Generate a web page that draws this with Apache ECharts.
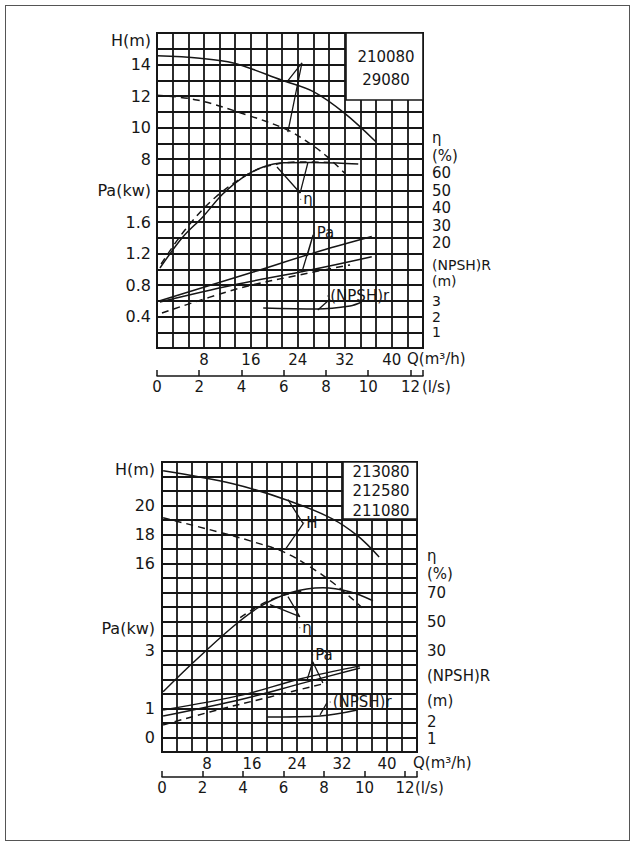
<!DOCTYPE html>
<html><head><meta charset="utf-8">
<script src="https://cdn.jsdelivr.net/npm/echarts@6/dist/echarts.min.js"></script>
<style>
html,body{margin:0;padding:0;background:#fff;}
#frame{position:absolute;left:5px;top:5px;width:623px;height:834px;border:1px solid #555;}
#chart{position:absolute;left:0;top:0;width:634px;height:846px;}
</style></head><body>
<div id="frame"></div><div id="chart"></div>
<script>
// ---------- data (Q in m3/h) ----------
// top chart : 210080 / 29080
const topModels = ['210080', '29080'];
const topH1Q = [0, 7.3, 13.0, 21.3, 26.8, 32.0, 37.3];
const topH1 = [14.55, 14.4, 14.1, 13.0, 12.25, 10.9, 9.1];
const topH2Q = [0, 6.8, 15.3, 22.2, 26.2, 29.0, 32.0];
const topH2 = [12.05, 11.75, 10.8, 9.85, 8.95, 8.15, 7.1];
const topEff1Q = [0.5, 4.4, 7.8, 11.2, 14.7, 18.1, 21.5, 26.1, 30.7, 34.3];
const topEff1 = [5.7, 23.4, 34.9, 48.0, 57.7, 63.4, 65.8, 66.0, 65.7, 65.1];
const topEff2Q = [0.7, 4.9, 10.0, 15.9, 19.6, 24.4, 29.5];
const topEff2 = [8.0, 28.0, 46.3, 60.0, 64.6, 66.3, 66.0];
const topPa1Q = [0.5, 16.4, 26.6, 36.6];
const topPa1 = [0.6, 0.965, 1.205, 1.415];
const topPa2Q = [0.5, 13.0, 24.4, 36.6];
const topPa2 = [0.585, 0.8, 0.965, 1.16];
const topPa3Q = [0.85, 14.1, 24.4, 32.9];
const topPa3 = [0.445, 0.76, 0.93, 1.055];
const topNpshQ = [18.1, 27.3, 32.9, 34.9];
const topNpsh = [2.54, 2.48, 2.67, 2.92];
// leader lines (top)
const topHLeadQ = [22.15, 24.7, 22.3], topHLead = [12.9, 14.1, 9.7];
const topEffLeadQ = [20.45, 24.4, 25.7], topEffLead = [63.4, 48.6, 65.7];
const topPaLeadQ = [24.7, 26.6, 25.6], topPaLead = [0.965, 1.435, 1.17];
const topNpshLeadQ = [27.4, 29.5], topNpshLead = [2.41, 3.11];

// bottom chart : 213080 / 212580 / 211080
const botModels = ['213080', '212580', '211080'];
const botH1Q = [0.2, 12.6, 22.4, 30.2, 34.8, 38.6];
const botH1 = [22.4, 21.5, 20.35, 19.1, 17.9, 16.45];
const botH2Q = [0.2, 9.8, 16.2, 21.9, 27.6, 30.8, 33.4, 35.6];
const botH2 = [19.15, 18.2, 17.5, 16.75, 15.45, 14.55, 13.7, 12.95];
const botEff1Q = [0.2, 5.5, 12.6, 17.4, 22.8, 28.6, 33.4, 37.5];
const botEff1 = [1.5, 21.5, 46.4, 60.2, 69.8, 73.3, 70.5, 64.3];
const botEff2Q = [13.9, 17.8, 21.9, 25.4];
const botEff2 = [52.6, 62.2, 68.5, 71.2];
const botPa1Q = [0.2, 14.4, 24.5, 35.2];
const botPa1 = [0.95, 1.47, 2.02, 2.47];
const botPa2Q = [0.2, 14.4, 24.5, 35.2];
const botPa2 = [0.74, 1.33, 1.85, 2.40];
const botPa3Q = [0.2, 8.5, 19.2, 29.3];
const botPa3 = [0.43, 0.88, 1.40, 1.88];
const botNpshQ = [18.7, 28.1, 34.7];
const botNpsh = [2.31, 2.37, 2.72];
// leader lines (bottom)
const botHLeadQ = [22.4, 25.1, 21.9], botHLead = [20.4, 18.75, 16.95];
const botEffLeadQ = [19.2, 24.5, 22.4], botEffLead = [61.6, 53.3, 67.1];
const botPaLeadQ = [25.8, 26.8, 28.6], botPaLead = [1.99, 2.61, 1.88];
const botNpshLeadQ = [28.1, 29.3], botNpshLead = [2.43, 3.13];

// tick labels
const qTicks = [8, 16, 24, 32, 40];
const lsTicks = [0, 2, 4, 6, 8, 10, 12];
const topHTicks = [8, 10, 12, 14];
const topPaTicks = [0.4, 0.8, 1.2, 1.6];
const topEffTicks = [20, 30, 40, 50, 60];
const topNpshTicks = [1, 2, 3];
const botHTicks = [16, 18, 20];
const botPaTicks = [0, 1, 3];
const botEffTicks = [30, 50, 70];
const botNpshTicks = [1, 2];

// ---------- chart ----------
const FONT = 'DejaVu Sans';
const INK = '#161616';
const QMAX = 136 / 3;
const GRIDW = 1.8;

function pairs(qs, vs) { return qs.map((q, i) => [q, vs[i]]); }
function fmt(ticks, extras) {
  return function (v) {
    for (const e of (extras || [])) if (Math.abs(v - e[0]) < 1e-6) return e[1];
    const t = ticks.find(t => Math.abs(t - v) < 1e-6);
    return t === undefined ? '' : String(t);
  };
}
function qAxis(gi, nameGap) {
  return {
    type: 'value', gridIndex: gi, min: 0, max: QMAX, interval: 8 / 3, position: 'bottom',
    axisLine: { show: false, onZero: false }, axisTick: { show: false },
    splitLine: { show: true, lineStyle: { color: INK, width: GRIDW } },
    axisLabel: { margin: 4, fontFamily: FONT, fontSize: 15, color: INK, formatter: fmt(qTicks) },
    name: 'Q(m³/h)', nameLocation: 'end', nameGap: nameGap, nameMoveOverlap: false,
    nameTextStyle: { fontFamily: FONT, fontSize: 15, color: INK, align: 'left', verticalAlign: 'top', padding: [3, 0, 0, 0] }
  };
}
function lsAxis(gi, offset, nameGap) {
  return {
    type: 'value', gridIndex: gi, min: 0, max: QMAX / 3.6, interval: 2, position: 'bottom', offset: offset,
    axisLine: { show: true, onZero: false, lineStyle: { color: INK, width: 1.5 } },
    axisTick: { show: true, inside: true, length: 6, lineStyle: { color: INK, width: 1.5 } },
    splitLine: { show: false },
    axisLabel: { margin: 3, fontFamily: FONT, fontSize: 15, color: INK, formatter: fmt(lsTicks) },
    name: '(l/s)', nameLocation: 'end', nameGap: nameGap, nameMoveOverlap: false,
    nameTextStyle: { fontFamily: FONT, fontSize: 15, color: INK, align: 'left', verticalAlign: 'top', padding: [3, 0, 0, 0] }
  };
}
function rowAxis(gi) {
  return {
    type: 'value', gridIndex: gi, min: 0, max: 20, interval: 1, position: 'left',
    axisLabel: { show: false }, axisLine: { show: false, onZero: false }, axisTick: { show: false },
    splitLine: { show: true, lineStyle: { color: INK, width: GRIDW } }
  };
}
function labAxis(gi, pos, min, max, interval, ticks, extras, size, margin, lh) {
  return {
    type: 'value', gridIndex: gi, position: pos, min: min, max: max, interval: interval,
    axisLine: { show: false, onZero: false }, axisTick: { show: false }, splitLine: { show: false },
    axisLabel: { margin: margin, fontFamily: FONT, fontSize: size, lineHeight: lh || size + 2, color: INK, formatter: fmt(ticks, extras) }
  };
}
function curve(xi, yi, qs, vs, dashed, width, smooth) {
  return {
    type: 'line', xAxisIndex: xi, yAxisIndex: yi, data: pairs(qs, vs),
    smooth: smooth === undefined ? 0.35 : smooth, symbol: 'none', silent: true, z: 3,
    lineStyle: { color: INK, width: width || 1.5, type: dashed ? [7, 5] : 'solid' }
  };
}
function note(xi, yi, q, v, text) {
  return {
    type: 'scatter', xAxisIndex: xi, yAxisIndex: yi, symbolSize: 1, silent: true, z: 4,
    itemStyle: { color: INK, opacity: 1 },
    data: [{ value: [q, v], name: text }],
    label: { show: true, position: 'right', distance: 2, formatter: '{b}', fontFamily: FONT, fontSize: 15,
      color: INK, textBorderWidth: 0, textBorderColor: 'transparent', textShadowBlur: 0 }
  };
}
function boxText(x, y, t) {
  return { type: 'text', x: x, y: y, z: 51,
    style: { text: t, fontFamily: FONT, fontSize: 15, fill: INK, textAlign: 'center', textVerticalAlign: 'middle', align: 'center', verticalAlign: 'middle' } };
}

const option = {
  backgroundColor: 'transparent',
  animation: false,
  grid: [
    { left: 157, top: 33, width: 266, height: 315, show: true, borderColor: INK, borderWidth: 2 },
    { left: 162, top: 462, width: 255, height: 290, show: true, borderColor: INK, borderWidth: 2 }
  ],
  xAxis: [qAxis(0, -16), lsAxis(0, 28, -1), qAxis(1, -4), lsAxis(1, 25, -2)],
  yAxis: [
    rowAxis(0),
    labAxis(0, 'left', -4, 16, 0.5, topHTicks, [[15.5, 'H(m)']], 16, 6),
    labAxis(0, 'left', 0, 4, 0.2, topPaTicks, [[2, 'Pa(kw)']], 16, 6),
    labAxis(0, 'right', -40, 140, 10, topEffTicks, [[70, '(%)'], [80, 'η']], 15, 9, 15),
    labAxis(0, 'right', 0, 20, 0.25, topNpshTicks, [[4.25, '(m)'], [5.25, '(NPSH)R']], 14, 9, 13),
    rowAxis(1),
    labAxis(1, 'left', 3, 23, 0.5, botHTicks, [[22.5, 'H(m)']], 16, 7),
    labAxis(1, 'left', -0.5, 9.5, 0.25, botPaTicks, [[3.75, 'Pa(kw)']], 16, 7),
    labAxis(1, 'right', -40, 160, 2.5, botEffTicks, [[82.5, '(%)'], [95, 'η']], 15, 10, 15),
    labAxis(1, 'right', 0.25, 0.25 + 290 / 17, 0.25, botNpshTicks, [[3.25, '(m)'], [4.75, '(NPSH)R']], 15, 10, 15)
  ],
  series: [
    // top
    curve(0, 1, topH1Q, topH1, false),
    curve(0, 1, topH2Q, topH2, true),
    curve(0, 3, topEff1Q, topEff1, false),
    curve(0, 3, topEff2Q, topEff2, true),
    curve(0, 2, topPa1Q, topPa1, false),
    curve(0, 2, topPa2Q, topPa2, false),
    curve(0, 2, topPa3Q, topPa3, true),
    curve(0, 4, topNpshQ, topNpsh, false),
    curve(0, 1, topHLeadQ, topHLead, false, 1.3, false),
    curve(0, 3, topEffLeadQ, topEffLead, false, 1.3, false),
    curve(0, 2, topPaLeadQ, topPaLead, false, 1.3, false),
    curve(0, 4, topNpshLeadQ, topNpshLead, false, 1.3, false),
    note(0, 3, 24.5, 45, 'η'),
    note(0, 2, 26.8, 1.46, 'Pa'),
    note(0, 4, 29.1, 3.3, '(NPSH)r'),
    // bottom
    curve(2, 6, botH1Q, botH1, false),
    curve(2, 6, botH2Q, botH2, true),
    curve(2, 8, botEff1Q, botEff1, false),
    curve(2, 8, botEff2Q, botEff2, true),
    curve(2, 7, botPa1Q, botPa1, false),
    curve(2, 7, botPa2Q, botPa2, false),
    curve(2, 7, botPa3Q, botPa3, true),
    curve(2, 9, botNpshQ, botNpsh, false),
    curve(2, 6, botHLeadQ, botHLead, false, 1.3, false),
    curve(2, 8, botEffLeadQ, botEffLead, false, 1.3, false),
    curve(2, 7, botPaLeadQ, botPaLead, false, 1.3, false),
    curve(2, 9, botNpshLeadQ, botNpshLead, false, 1.3, false),
    note(2, 6, 25.2, 18.8, 'H'),
    note(2, 8, 24.5, 45.7, 'η'),
    note(2, 7, 26.8, 2.85, 'Pa'),
    note(2, 9, 29.9, 3.19, '(NPSH)r')
  ],
  graphic: [
    { type: 'rect', z: 50, shape: { x: 346, y: 33, width: 77, height: 67 }, style: { fill: '#fff', stroke: INK, lineWidth: 1.6 } },
    boxText(386, 57, topModels[0]),
    boxText(386, 80, topModels[1]),
    { type: 'rect', z: 50, shape: { x: 343, y: 462, width: 74, height: 57 }, style: { fill: '#fff', stroke: INK, lineWidth: 1.6 } },
    boxText(381, 472, botModels[0]),
    boxText(381, 491, botModels[1]),
    boxText(381, 511, botModels[2])
  ]
};
const chart = echarts.init(document.getElementById('chart'), null, { renderer: 'svg' });
chart.setOption(option);
</script></body></html>
